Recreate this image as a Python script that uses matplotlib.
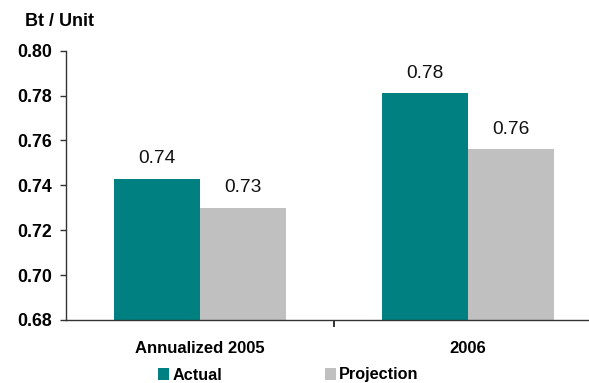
import matplotlib
matplotlib.use("Agg")
import matplotlib.pyplot as plt
from matplotlib.patches import Patch
import numpy as np

categories = ["Annualized 2005", "2006"]
actual = [0.743, 0.781]
projection = [0.730, 0.756]
actual_labels = ["0.74", "0.78"]
projection_labels = ["0.73", "0.76"]
series_names = ["Actual", "Projection"]
yticks = [0.68, 0.70, 0.72, 0.74, 0.76, 0.78, 0.80]

teal = "#008080"
gray = "#C0C0C0"

plt.rcParams['font.family'] = ['Liberation Sans', 'DejaVu Sans']

fig = plt.figure(figsize=(5.89, 3.83), dpi=100)
ax = fig.add_axes([65.7/589, 1-320/383, 536.6/589, (320-50.7)/383])

x = np.arange(len(categories))
w = 0.3205
b1 = ax.bar(x - w/2, actual, w, color=teal, zorder=2)
b2 = ax.bar(x + w/2, projection, w, color=gray, zorder=2)
ax.set_ylim(0.68, 0.80)
ax.set_xlim(-0.5, 1.5)

for bars, labels in ((b1, actual_labels), (b2, projection_labels)):
    for rect, lab in zip(bars, labels):
        ax.annotate(lab, (rect.get_x() + rect.get_width()/2, rect.get_height()),
                    xytext=(0, 8.5), textcoords='offset points', ha='center', va='bottom',
                    fontsize=13.8, color='#111111')

for s in ['top', 'right']:
    ax.spines[s].set_visible(False)
for s in ['left', 'bottom']:
    ax.spines[s].set_color('#333333')
    ax.spines[s].set_linewidth(1.0)

ax.set_yticks(yticks)
ax.set_yticklabels([f"{v:.2f}" for v in yticks], fontsize=12.8, fontweight='bold')
ax.tick_params(axis='y', direction='out', length=4, width=1, pad=6, colors='#333333', labelcolor='black')

ax.set_xticks([0.5])
ax.set_xticklabels([''])
ax.tick_params(axis='x', direction='out', length=5, width=1.2, colors='#111111')
ax.set_xticks(x, minor=True)
ax.set_xticklabels(categories, minor=True, fontsize=12, fontweight='bold')
ax.tick_params(axis='x', which='minor', length=0, pad=15)

fig.text(25/589, 1-22/383, "Bt / Unit", fontsize=13, fontweight='bold', va='center', ha='left')

handles = [Patch(facecolor=teal, edgecolor='none'), Patch(facecolor=gray, edgecolor='none')]
leg = fig.legend(handles, series_names, loc='center left', bbox_to_anchor=(158/589, 1-375/383),
                 ncol=2, frameon=False, handlelength=0.7, handleheight=0.7, handletextpad=0.2,
                 columnspacing=6.3, borderaxespad=0, borderpad=0,
                 prop={'family': 'Liberation Sans', 'weight': 'bold', 'size': 11.7})

fig.savefig("out.png", dpi=100)
